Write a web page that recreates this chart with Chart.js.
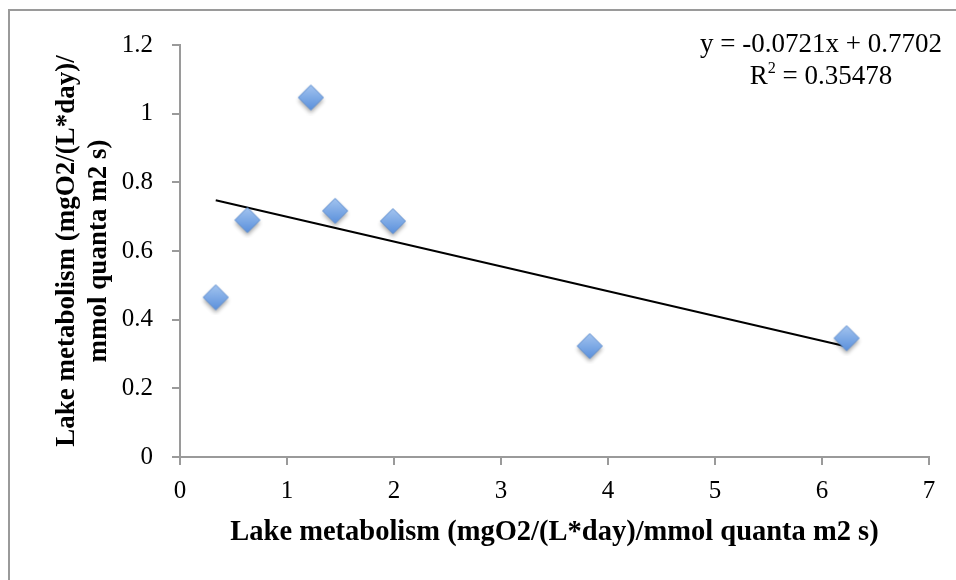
<!DOCTYPE html>
<html>
<head>
<meta charset="utf-8">
<script src="https://cdn.jsdelivr.net/npm/chart.js@4.4.1/dist/chart.umd.min.js"></script>
<style>
  body { margin: 0; background: #fff; }
  #wrap { position: relative; width: 956px; height: 580px; overflow: hidden; }
  #frame {
    position: absolute; left: 8px; top: 9px; width: 1000px; height: 1000px;
    border: 2px solid #9a9a9a; box-sizing: border-box;
  }
  #chart { position: absolute; left: 0; top: 0; }
  #eq {
    position: absolute; left: 671px; top: 27px; width: 300px;
    text-align: center; font: 27px "Liberation Serif", serif; line-height: 32px; color: #000;
  }
  #eq sup { font-size: 60%; line-height: 0; vertical-align: 0.7em; }
</style>
</head>
<body>
<div id="wrap">
  <div id="frame"></div>
  <canvas id="chart" width="956" height="580"></canvas>
  <div id="eq">y = -0.0721x + 0.7702<br>R<sup>2</sup> = 0.35478</div>
</div>
<script>
// values
const xVals = [0.334, 0.630, 1.223, 1.450, 1.990, 3.829, 6.230];
const yVals = [0.465, 0.690, 1.047, 0.717, 0.687, 0.323, 0.346];
// trendline ends, as drawn
const trendX = [0.334, 6.230];
const trendY = [0.748, 0.322];
const xTitle = "Lake metabolism (mgO2/(L*day)/mmol quanta m2 s)";
const yTitle = ["Lake metabolism (mgO2/(L*day)/", "mmol quanta m2 s)"];

/********************* DIAMOND MARKER *********************/
const makeDiamond = () => {
  let c = document.createElement("canvas");
  c.width = 36;
  c.height = 36;
  let g = c.getContext("2d");
  let r = 12.5;
  g.shadowColor = "rgba(0,0,0,0.35)";
  g.shadowBlur = 4;
  g.shadowOffsetY = 3;
  let grad = g.createLinearGradient(0, 18 - r, 0, 18 + r);
  grad.addColorStop(0, "#a3c4ef");
  grad.addColorStop(1, "#5a90dc");
  g.beginPath();
  g.moveTo(18, 18 - r);
  g.lineTo(18 + r, 18);
  g.lineTo(18, 18 + r);
  g.lineTo(18 - r, 18);
  g.closePath();
  g.fillStyle = grad;
  g.fill();
  g.shadowColor = "transparent";
  g.strokeStyle = "#5b8cd0";
  g.lineWidth = 1;
  g.stroke();
  return c;
};

const axisColor = "#9a9a9a";
const tickFont = { family: "Liberation Serif", size: 25 };
const xTitleFont = { family: "Liberation Serif", size: 28.5, weight: "bold", lineHeight: 1.15 };
const yTitleFont = { family: "Liberation Serif", size: 27, weight: "bold", lineHeight: 1.15 };

new Chart(document.getElementById("chart").getContext("2d"), {
  type: "scatter",
  data: {
    datasets: [
      {
        data: xVals.map((x, i) => ({ x: x, y: yVals[i] })),
        pointStyle: makeDiamond(),
        pointRadius: 13,
        order: 0,
      },
      {
        type: "line",
        data: trendX.map((x, i) => ({ x: x, y: trendY[i] })),
        borderColor: "#000",
        borderWidth: 2,
        pointRadius: 0,
        fill: false,
        order: 1,
      },
    ],
  },
  options: {
    responsive: false,
    devicePixelRatio: 1,
    animation: false,
    layout: { padding: { top: 45, right: 27, bottom: 0, left: 0 } },
    plugins: { legend: { display: false }, tooltip: { enabled: false } },
    scales: {
      x: {
        type: "linear",
        min: 0,
        max: 7,
        ticks: { stepSize: 1, font: tickFont, color: "#000", padding: 11, maxRotation: 0 },
        grid: { display: true, drawOnChartArea: false, tickLength: 8, color: axisColor, lineWidth: 2 },
        border: { color: axisColor, width: 2 },
        title: { display: true, text: xTitle, font: xTitleFont, color: "#000", padding: { top: 0, bottom: 31 } },
        afterFit: (scale) => {
          scale.height = 123;
        },
      },
      y: {
        min: 0,
        max: 1.2,
        ticks: {
          stepSize: 0.2,
          font: tickFont,
          color: "#000",
          padding: 19,
          callback: (v) => +v.toFixed(1),
        },
        grid: { display: true, drawOnChartArea: false, tickLength: 8, color: axisColor, lineWidth: 2 },
        border: { color: axisColor, width: 2 },
        title: { display: true, text: yTitle, font: yTitleFont, color: "#000", padding: { top: 52, bottom: 0 } },
        afterFit: (scale) => {
          scale.width = 180;
        },
      },
    },
  },
});
</script>
</body>
</html>
